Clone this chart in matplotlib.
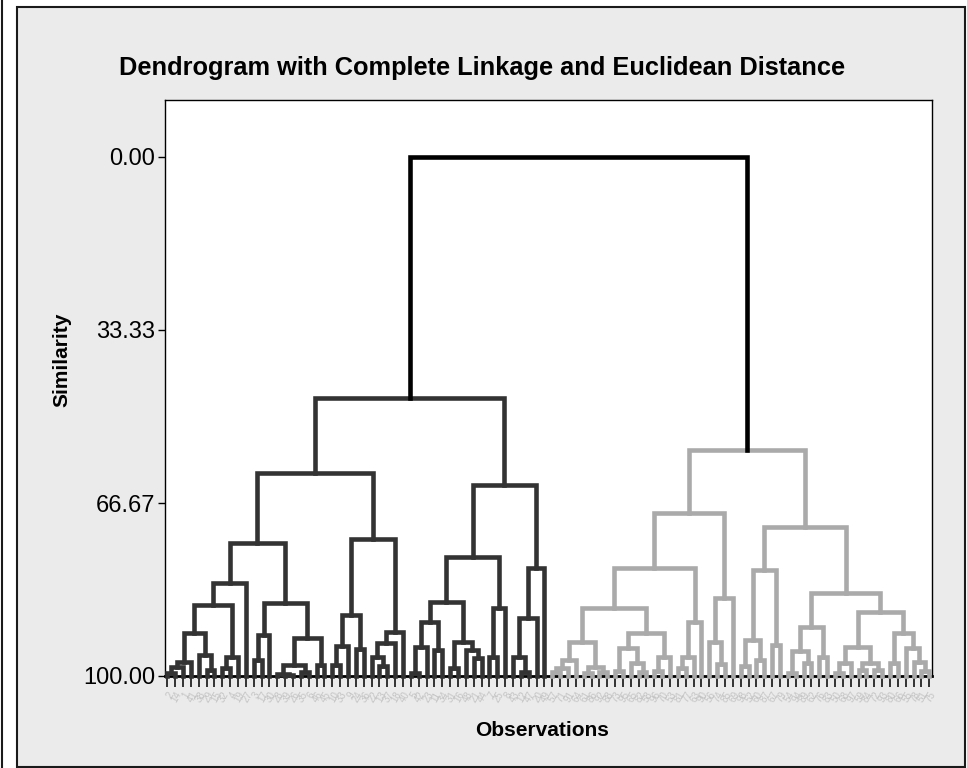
import matplotlib
matplotlib.use("Agg")
import matplotlib.pyplot as plt
from matplotlib import font_manager
from matplotlib.lines import Line2D
from matplotlib.patches import Rectangle

# Tree nodes are (similarity, left, right); leaves are their position (0..97) on the axis.
A1a = (82.1,
       (86.3,
        (91.7, (97.3, (98.3, (99.4, 0, 1), 2), 3), (96.0, 4, (98.8, 5, 6))),
        (96.3, (98.5, 7, 8), 9)),
       10)
A1b = (85.9,
       (92.1, (97.0, 11, 12), 13),
       (92.7, (97.9, (99.6, 14, (99.9, 15, 16)), (99.2, 17, 18)), (97.8, 19, 20)))
A2 = (73.6,
      (88.2, (94.2, (97.9, 21, 22), 23), (94.8, 24, 25)),
      (91.5, (93.6, (96.3, 26, (98.0, 27, 28)), 29), 30))
B_left = (77.1,
          (85.7,
           (89.6, (94.4, (99.4, 31, 32), 33), (95.0, 34, 35)),
           (93.4, (98.5, 36, 37), (95.0, 38, (96.5, 39, 40)))),
          (86.9, (96.3, 41, 42), 43))
B_right = (79.2, (88.8, (96.3, 44, (99.3, 45, 46)), 47), 48)
black_cluster = (46.4, (60.9, (74.4, A1a, A1b), A2), (63.2, B_left, B_right))

G1 = (93.4, (96.9, (98.5, (99.3, 49, 50), 51), 52), (98.2, (99.4, 53, 54), (99.2, 55, 56)))
G2 = (91.7, (94.6, (99.0, 57, 58), (97.5, 59, (99.3, 60, 61))), (96.3, (99.0, 62, 63), 64))
G3 = (89.6, (96.3, (98.5, 65, 66), 67), 68)
GL = (68.6, (79.2, (86.9, G1, G2), G3), (85.0, (93.4, 69, (97.6, 70, 71)), 72))
GR_left = (79.6, (93.0, (98.0, 73, 74), (97.0, 75, 76)), (94.0, 77, 78))
GRR_left = (90.6, (95.2, (99.5, 79, 80), (97.5, 81, 82)), (96.3, 83, 84))
GRR_right = (87.7,
             (94.5, (97.5, (99.5, 85, 86), 87), (97.5, (98.8, 88, 89), (98.8, 90, 91))),
             (91.7, (97.5, 92, 93), (94.6, 94, (97.3, 95, (99.0, 96, 97)))))
grey_cluster = (56.5, GL, (71.3, GR_left, (84.0, GRR_left, GRR_right)))
root_similarity = 0.0

obs_labels = [2, 14, 1, 41, 38, 29, 15, 32, 4, 19, 27, 3, 17, 30, 28, 39, 26, 35, 6, 46,
              45, 10, 33, 9, 24, 36, 22, 13, 37, 18, 40, 5, 42, 23, 11, 34, 31, 16, 48, 21,
              44, 7, 25, 8, 43, 12, 47, 20, 49,
              57, 71, 91, 64, 61, 86, 92, 88, 73, 95, 65, 82, 58, 96, 70, 53, 81, 77, 63, 90,
              56, 74, 85, 69, 98, 52, 60, 87, 67, 79, 54, 94, 89, 62, 76, 83, 50, 68, 97, 59,
              84, 72, 93, 80, 66, 55, 78, 51, 75]
ytick_vals = [0.0, 33.33, 66.67, 100.0]
ytick_text = ["0.00", "33.33", "66.67", "100.00"]

names = {f.name for f in font_manager.fontManager.ttflist}
FAM = ["Liberation Sans Narrow", "Liberation Sans"] if "Liberation Sans Narrow" in names else ["Liberation Sans"]
LW = 3.3


def draw(ax, node, color):
    if isinstance(node, int):
        return float(node), 100.0
    s, left, right = node
    xl, sl = draw(ax, left, color)
    xr, sr = draw(ax, right, color)
    ax.plot([xl, xl, xr, xr], [sl, s, s, sr], color=color, lw=LW,
            solid_joinstyle="miter", solid_capstyle="projecting", clip_on=False, zorder=3)
    return (xl + xr) / 2, s


W, H = 967, 768
fig = plt.figure(figsize=(W / 100, H / 100), dpi=100)
fig.patch.set_facecolor("white")
fig.add_artist(Rectangle((17 / W, 1 / H), (965 - 17) / W, (760) / H, transform=fig.transFigure,
                         facecolor="#ebebeb", edgecolor="#1a1a1a", lw=1.5, zorder=0))
fig.add_artist(Line2D([1.5 / W, 1.5 / W], [0, 1], color="#1a1a1a", lw=1.5))

ax = fig.add_axes([165 / W, 1 - 676 / H, (932 - 165) / W, (676 - 100) / H])
ax.set_facecolor("white")

xb, sb = draw(ax, black_cluster, "#333333")
xg, sg = draw(ax, grey_cluster, "#aaaaaa")
ax.plot([xb, xb, xg, xg], [sb, root_similarity, root_similarity, sg], color="black", lw=LW,
        solid_joinstyle="miter", solid_capstyle="projecting", zorder=4)

ax.set_xlim(-0.3, 97.35)
ax.set_ylim(100, -10.98)
ax.set_yticks(ytick_vals)
ax.set_yticklabels(ytick_text, fontsize=17, family=FAM)
ax.set_xticks(range(len(obs_labels)))
ax.set_xticklabels([str(v) for v in obs_labels], fontsize=7, rotation=60, ha="right",
                   rotation_mode="anchor", color="#c4c4c4", family="Liberation Sans")
ax.tick_params(axis="x", length=8, width=1.1, direction="out", pad=2)
ax.tick_params(axis="y", length=5, width=1.0, direction="out", pad=2)
for side in ["top", "right", "left"]:
    ax.spines[side].set_linewidth(1.0)
ax.spines["bottom"].set_linewidth(2.0)

fig.text(482 / W, 1 - 68 / H, "Dendrogram with Complete Linkage and Euclidean Distance",
         ha="center", va="center", fontsize=18.3, fontweight="bold", family=FAM)
fig.text(62 / W, 1 - 360 / H, "Similarity", rotation=90, ha="center", va="center",
         fontsize=15, fontweight="bold", family=FAM)
fig.text(542 / W, 1 - 731 / H, "Observations", ha="center", va="center",
         fontsize=15, fontweight="bold", family=FAM)

fig.savefig("out.png", dpi=100, facecolor=fig.get_facecolor())
